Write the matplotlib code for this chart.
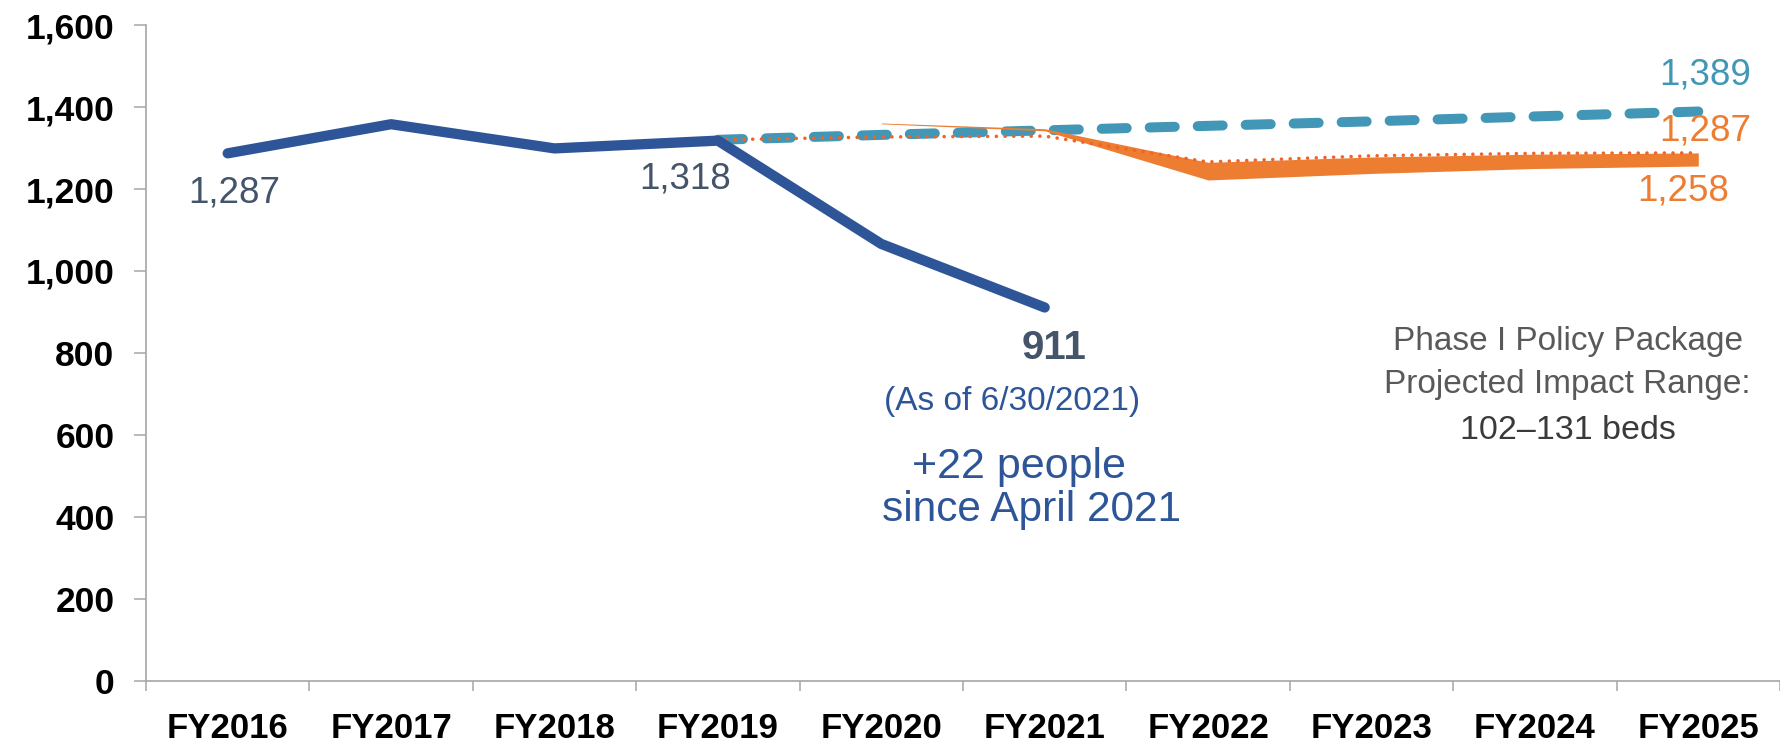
import matplotlib
matplotlib.use("Agg")
import matplotlib.pyplot as plt
import numpy as np
from matplotlib.ticker import FuncFormatter, MultipleLocator

BLUE = "#2E5597"; TEAL = "#4197B5"; ORANGE = "#ED7D31"; DOTORG = "#F0642A"
SLATE = "#44546A"; GREY = "#595959"; AXIS = "#A6A6A6"
F = "Liberation Sans"

years = ["FY2016", "FY2017", "FY2018", "FY2019", "FY2020",
         "FY2021", "FY2022", "FY2023", "FY2024", "FY2025"]
actual = [1287, 1358, 1299, 1318, 1066, 911]                 # FY2016-FY2021
baseline = [1320, 1332, 1343, 1354, 1365, 1377, 1389]        # FY2019-FY2025
policy_high = [1320, 1327, 1329, 1266, 1281, 1287, 1288]     # FY2019-FY2025 (dotted)
band_low = [1359, 1342, 1222, 1238, 1250, 1256]              # FY2020-FY2025
band_high = [1361, 1347, 1265, 1278, 1285, 1288]
yticks = [0, 200, 400, 600, 800, 1000, 1200, 1400, 1600]

x = np.arange(len(years))
x_act = x[:len(actual)]
x_proj = x[3:3 + len(baseline)]
x_band = x[4:4 + len(band_low)]

fig = plt.figure(figsize=(17.8, 7.45), dpi=100)
ax = fig.add_axes([146 / 1780, 64 / 745, 1 - 146 / 1780, 656 / 745])
ax.set_xlim(-0.5, len(years) - 0.5)
ax.set_ylim(0, 1600)

ax.plot(x_proj, baseline, color=TEAL, lw=7.2, dashes=(2.5, 2.3),
        dash_capstyle="round", solid_capstyle="round", zorder=2)
ax.fill_between(x_band, band_low, band_high, color=ORANGE, lw=0, zorder=3)
ax.plot(x_proj, policy_high, color=DOTORG, lw=2.6, dashes=(0.01, 2.4),
        dash_capstyle="round", zorder=4)
ax.plot(x_act, actual, color=BLUE, lw=7.4, solid_capstyle="round",
        solid_joinstyle="round", zorder=5)

# axes styling (Excel look)
for s in ["top", "right"]:
    ax.spines[s].set_visible(False)
for s in ["left", "bottom"]:
    ax.spines[s].set_color(AXIS); ax.spines[s].set_linewidth(1.2)
ax.set_yticks(yticks)
ax.yaxis.set_major_formatter(FuncFormatter(lambda v, p: f"{int(v):,}"))
ax.tick_params(axis="y", length=8.6, width=1.1, color=AXIS, pad=14)
for lab in ax.get_yticklabels():
    lab.set_fontfamily(F); lab.set_fontweight("bold"); lab.set_fontsize(25.5)
ax.set_xticks(x)
ax.set_xticklabels(years, fontfamily=F, fontweight="bold", fontsize=25)
ax.xaxis.set_minor_locator(MultipleLocator(1, offset=0.5))
ax.tick_params(axis="x", which="major", length=0, pad=22)
ax.tick_params(axis="x", which="minor", length=7, width=1.1, color=AXIS)

# annotations
ax.text(0.04, 1190, "1,287", ha="center", va="center", color=SLATE, fontsize=26.5, family=F)
ax.text(2.80, 1224, "1,318", ha="center", va="center", color=SLATE, fontsize=26.5, family=F)
ax.text(5.06, 812, "911", ha="center", va="center", color=SLATE, fontsize=29,
        fontweight="bold", family=F)
ax.text(4.80, 682, "(As of 6/30/2021)", ha="center", va="center", color=BLUE, fontsize=24, family=F)
ax.text(4.84, 522, "+22 people", ha="center", va="center", color=BLUE, fontsize=31, family=F)
ax.text(4.92, 417, "since April 2021", ha="center", va="center", color=BLUE, fontsize=30.5, family=F)
ax.text(9.04, 1478, "1,389", ha="center", va="center", color=TEAL, fontsize=26.5, family=F)
ax.text(9.04, 1341, "1,287", ha="center", va="center", color=ORANGE, fontsize=26.5, family=F)
ax.text(8.91, 1195, "1,258", ha="center", va="center", color=ORANGE, fontsize=26.5, family=F)
ax.text(8.20, 828, "Phase I Policy Package", ha="center", va="center", color=GREY, fontsize=24, family=F)
ax.text(8.20, 722, "Projected Impact Range:", ha="center", va="center", color=GREY, fontsize=24, family=F)
ax.text(8.20, 610, "102\u2013131 beds", ha="center", va="center", color="#3A3A3A", fontsize=24.5, family=F)

fig.savefig("out.png", dpi=100, facecolor="white")
